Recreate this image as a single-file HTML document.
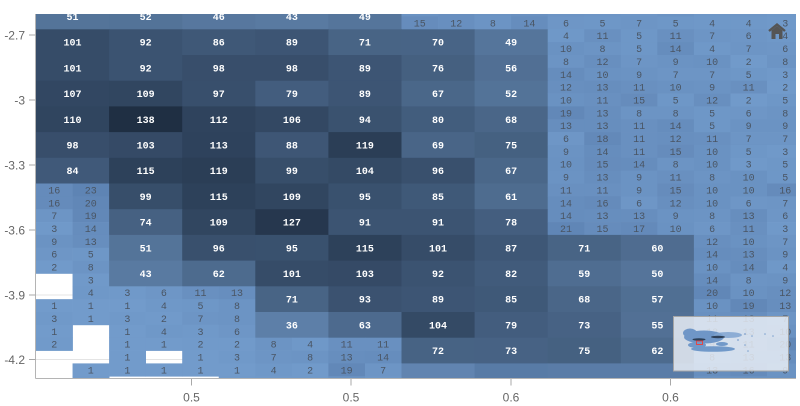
<!DOCTYPE html>
<html><head><meta charset="utf-8"><style>
html,body{margin:0;padding:0;background:#fff;}
body{width:800px;height:406px;overflow:hidden;}
svg{display:block;}
.L{font:bold 10px "Liberation Mono",monospace;fill:#fff;text-anchor:middle;}
.S{font:10px "Liberation Mono",monospace;fill:#4a5563;text-anchor:middle;}
.ax{font:12px "Liberation Sans",sans-serif;fill:#666;}
</style></head><body>
<svg width="800" height="406" viewBox="0 0 800 406" xmlns="http://www.w3.org/2000/svg">
<defs><clipPath id="pc"><rect x="36" y="14" width="760" height="364.5"/></clipPath></defs>
<g stroke="#e4e4e4" stroke-width="1">
<line x1="36" y1="35" x2="796" y2="35"/><line x1="36" y1="100" x2="796" y2="100"/><line x1="36" y1="165" x2="796" y2="165"/><line x1="36" y1="230" x2="796" y2="230"/><line x1="36" y1="295" x2="796" y2="295"/><line x1="36" y1="359.5" x2="796" y2="359.5"/>
</g>
<g clip-path="url(#pc)">
<!-- Row 0 -->
<g transform="translate(36,3.6)"><rect width="73.6" height="26.2" fill="#547499"/><text class="L" x="36.55" y="16.4">51</text></g>
<g transform="translate(109.1,3.6)"><rect width="73.6" height="26.2" fill="#537398"/><text class="L" x="36.55" y="16.4">52</text></g>
<g transform="translate(182.2,3.6)"><rect width="73.6" height="26.2" fill="#57779e"/><text class="L" x="36.55" y="16.4">46</text></g>
<g transform="translate(255.3,3.6)"><rect width="73.6" height="26.2" fill="#597aa1"/><text class="L" x="36.55" y="16.4">43</text></g>
<g transform="translate(328.4,3.6)"><rect width="73.6" height="26.2" fill="#55759b"/><text class="L" x="36.55" y="16.4">49</text></g>
<g transform="translate(401.5,3.6)"><rect x="0" y="0" width="36.9" height="13.2" fill="#6a92c2"/><rect x="36.55" y="0" width="36.9" height="13.2" fill="#688fbf"/><rect x="0" y="12.85" width="36.9" height="13.2" fill="#668cbc"/><rect x="36.55" y="12.85" width="36.9" height="13.2" fill="#688fbf"/><text class="S" x="18.3" y="22.8">15</text><text class="S" x="54.8" y="22.8">12</text></g>
<g transform="translate(474.6,3.6)"><rect x="0" y="0" width="36.9" height="13.2" fill="#6b93c3"/><rect x="36.55" y="0" width="36.9" height="13.2" fill="#6990c0"/><rect x="0" y="12.85" width="36.9" height="13.2" fill="#6c94c4"/><rect x="36.55" y="12.85" width="36.9" height="13.2" fill="#668dbd"/><text class="S" x="18.3" y="22.8">8</text><text class="S" x="54.8" y="22.8">14</text></g>
<g transform="translate(547.7,3.6)"><rect x="0" y="0" width="36.9" height="13.2" fill="#6c94c4"/><rect x="36.55" y="0" width="36.9" height="13.2" fill="#6d95c5"/><rect x="0" y="12.85" width="36.9" height="13.2" fill="#6e96c6"/><rect x="36.55" y="12.85" width="36.9" height="13.2" fill="#6e97c7"/><text class="S" x="18.3" y="22.8">6</text><text class="S" x="54.8" y="22.8">5</text></g>
<g transform="translate(620.8,3.6)"><rect x="0" y="0" width="36.9" height="13.2" fill="#6e96c6"/><rect x="36.55" y="0" width="36.9" height="13.2" fill="#6b93c3"/><rect x="0" y="12.85" width="36.9" height="13.2" fill="#6d95c5"/><rect x="36.55" y="12.85" width="36.9" height="13.2" fill="#6e97c7"/><text class="S" x="18.3" y="22.8">7</text><text class="S" x="54.8" y="22.8">5</text></g>
<g transform="translate(693.9,3.6)"><rect x="0" y="0" width="36.9" height="13.2" fill="#6e97c7"/><rect x="36.55" y="0" width="36.9" height="13.2" fill="#6e96c6"/><rect x="0" y="12.85" width="36.9" height="13.2" fill="#6f98c8"/><rect x="36.55" y="12.85" width="36.9" height="13.2" fill="#6f98c8"/><text class="S" x="18.3" y="22.8">4</text><text class="S" x="54.8" y="22.8">4</text></g>
<g transform="translate(767,3.6)"><rect x="0" y="0" width="36.9" height="13.2" fill="#6f98c8"/><rect x="0" y="12.85" width="36.9" height="13.2" fill="#7099c9"/><text class="S" x="18.3" y="22.8">3</text></g>
<!-- Row 1 -->
<g transform="translate(36,29.3)"><rect width="73.6" height="26.2" fill="#364c68"/><text class="L" x="36.55" y="16.4">101</text></g>
<g transform="translate(109.1,29.3)"><rect width="73.6" height="26.2" fill="#3b5371"/><text class="L" x="36.55" y="16.4">92</text></g>
<g transform="translate(182.2,29.3)"><rect width="73.6" height="26.2" fill="#3f5877"/><text class="L" x="36.55" y="16.4">86</text></g>
<g transform="translate(255.3,29.3)"><rect width="73.6" height="26.2" fill="#3d5574"/><text class="L" x="36.55" y="16.4">89</text></g>
<g transform="translate(328.4,29.3)"><rect width="73.6" height="26.2" fill="#486485"/><text class="L" x="36.55" y="16.4">71</text></g>
<g transform="translate(401.5,29.3)"><rect width="73.6" height="26.2" fill="#486486"/><text class="L" x="36.55" y="16.4">70</text></g>
<g transform="translate(474.6,29.3)"><rect width="73.6" height="26.2" fill="#55759b"/><text class="L" x="36.55" y="16.4">49</text></g>
<g transform="translate(547.7,29.3)"><rect x="0" y="0" width="36.9" height="13.2" fill="#6f98c8"/><rect x="36.55" y="0" width="36.9" height="13.2" fill="#6990c0"/><rect x="0" y="12.85" width="36.9" height="13.2" fill="#6a92c2"/><rect x="36.55" y="12.85" width="36.9" height="13.2" fill="#6c94c4"/><text class="S" x="18.3" y="9.9">4</text><text class="S" x="54.8" y="9.9">11</text><text class="S" x="18.3" y="22.8">10</text><text class="S" x="54.8" y="22.8">8</text></g>
<g transform="translate(620.8,29.3)"><rect x="0" y="0" width="36.9" height="13.2" fill="#6e97c7"/><rect x="36.55" y="0" width="36.9" height="13.2" fill="#6990c0"/><rect x="0" y="12.85" width="36.9" height="13.2" fill="#6e97c7"/><rect x="36.55" y="12.85" width="36.9" height="13.2" fill="#668dbd"/><text class="S" x="18.3" y="9.9">5</text><text class="S" x="54.8" y="9.9">11</text><text class="S" x="18.3" y="22.8">5</text><text class="S" x="54.8" y="22.8">14</text></g>
<g transform="translate(693.9,29.3)"><rect x="0" y="0" width="36.9" height="13.2" fill="#6d95c5"/><rect x="36.55" y="0" width="36.9" height="13.2" fill="#6e96c6"/><rect x="0" y="12.85" width="36.9" height="13.2" fill="#6f98c8"/><rect x="36.55" y="12.85" width="36.9" height="13.2" fill="#6d95c5"/><text class="S" x="18.3" y="9.9">7</text><text class="S" x="54.8" y="9.9">6</text><text class="S" x="18.3" y="22.8">4</text><text class="S" x="54.8" y="22.8">7</text></g>
<g transform="translate(767,29.3)"><rect x="0" y="0" width="36.9" height="13.2" fill="#6f98c8"/><rect x="0" y="12.85" width="36.9" height="13.2" fill="#6e96c6"/><text class="S" x="18.3" y="9.9">4</text><text class="S" x="18.3" y="22.8">6</text></g>
<!-- Row 2 -->
<g transform="translate(36,55)"><rect width="73.6" height="26.2" fill="#364c68"/><text class="L" x="36.55" y="16.4">101</text></g>
<g transform="translate(109.1,55)"><rect width="73.6" height="26.2" fill="#3b5371"/><text class="L" x="36.55" y="16.4">92</text></g>
<g transform="translate(182.2,55)"><rect width="73.6" height="26.2" fill="#384e6b"/><text class="L" x="36.55" y="16.4">98</text></g>
<g transform="translate(255.3,55)"><rect width="73.6" height="26.2" fill="#384e6b"/><text class="L" x="36.55" y="16.4">98</text></g>
<g transform="translate(328.4,55)"><rect width="73.6" height="26.2" fill="#3d5574"/><text class="L" x="36.55" y="16.4">89</text></g>
<g transform="translate(401.5,55)"><rect width="73.6" height="26.2" fill="#456080"/><text class="L" x="36.55" y="16.4">76</text></g>
<g transform="translate(474.6,55)"><rect width="73.6" height="26.2" fill="#516f94"/><text class="L" x="36.55" y="16.4">56</text></g>
<g transform="translate(547.7,55)"><rect x="0" y="0" width="36.9" height="13.2" fill="#6c94c4"/><rect x="36.55" y="0" width="36.9" height="13.2" fill="#688fbf"/><rect x="0" y="12.85" width="36.9" height="13.2" fill="#668dbd"/><rect x="36.55" y="12.85" width="36.9" height="13.2" fill="#6a92c2"/><text class="S" x="18.3" y="9.9">8</text><text class="S" x="54.8" y="9.9">12</text><text class="S" x="18.3" y="22.8">14</text><text class="S" x="54.8" y="22.8">10</text></g>
<g transform="translate(620.8,55)"><rect x="0" y="0" width="36.9" height="13.2" fill="#6d95c5"/><rect x="36.55" y="0" width="36.9" height="13.2" fill="#6b93c3"/><rect x="0" y="12.85" width="36.9" height="13.2" fill="#6b93c3"/><rect x="36.55" y="12.85" width="36.9" height="13.2" fill="#6d95c5"/><text class="S" x="18.3" y="9.9">7</text><text class="S" x="54.8" y="9.9">9</text><text class="S" x="18.3" y="22.8">9</text><text class="S" x="54.8" y="22.8">7</text></g>
<g transform="translate(693.9,55)"><rect x="0" y="0" width="36.9" height="13.2" fill="#6a92c2"/><rect x="36.55" y="0" width="36.9" height="13.2" fill="#719aca"/><rect x="0" y="12.85" width="36.9" height="13.2" fill="#6d95c5"/><rect x="36.55" y="12.85" width="36.9" height="13.2" fill="#6e97c7"/><text class="S" x="18.3" y="9.9">10</text><text class="S" x="54.8" y="9.9">2</text><text class="S" x="18.3" y="22.8">7</text><text class="S" x="54.8" y="22.8">5</text></g>
<g transform="translate(767,55)"><rect x="0" y="0" width="36.9" height="13.2" fill="#6c94c4"/><rect x="0" y="12.85" width="36.9" height="13.2" fill="#7099c9"/><text class="S" x="18.3" y="9.9">8</text><text class="S" x="18.3" y="22.8">3</text></g>
<!-- Row 3 -->
<g transform="translate(36,80.7)"><rect width="73.6" height="26.2" fill="#324762"/><text class="L" x="36.55" y="16.4">107</text></g>
<g transform="translate(109.1,80.7)"><rect width="73.6" height="26.2" fill="#314660"/><text class="L" x="36.55" y="16.4">109</text></g>
<g transform="translate(182.2,80.7)"><rect width="73.6" height="26.2" fill="#384f6c"/><text class="L" x="36.55" y="16.4">97</text></g>
<g transform="translate(255.3,80.7)"><rect width="73.6" height="26.2" fill="#435d7e"/><text class="L" x="36.55" y="16.4">79</text></g>
<g transform="translate(328.4,80.7)"><rect width="73.6" height="26.2" fill="#3d5574"/><text class="L" x="36.55" y="16.4">89</text></g>
<g transform="translate(401.5,80.7)"><rect width="73.6" height="26.2" fill="#4a6789"/><text class="L" x="36.55" y="16.4">67</text></g>
<g transform="translate(474.6,80.7)"><rect width="73.6" height="26.2" fill="#537398"/><text class="L" x="36.55" y="16.4">52</text></g>
<g transform="translate(547.7,80.7)"><rect x="0" y="0" width="36.9" height="13.2" fill="#688fbf"/><rect x="36.55" y="0" width="36.9" height="13.2" fill="#678ebe"/><rect x="0" y="12.85" width="36.9" height="13.2" fill="#6a92c2"/><rect x="36.55" y="12.85" width="36.9" height="13.2" fill="#6990c0"/><text class="S" x="18.3" y="9.9">12</text><text class="S" x="54.8" y="9.9">13</text><text class="S" x="18.3" y="22.8">10</text><text class="S" x="54.8" y="22.8">11</text></g>
<g transform="translate(620.8,80.7)"><rect x="0" y="0" width="36.9" height="13.2" fill="#6990c0"/><rect x="36.55" y="0" width="36.9" height="13.2" fill="#6a92c2"/><rect x="0" y="12.85" width="36.9" height="13.2" fill="#668cbc"/><rect x="36.55" y="12.85" width="36.9" height="13.2" fill="#6e97c7"/><text class="S" x="18.3" y="9.9">11</text><text class="S" x="54.8" y="9.9">10</text><text class="S" x="18.3" y="22.8">15</text><text class="S" x="54.8" y="22.8">5</text></g>
<g transform="translate(693.9,80.7)"><rect x="0" y="0" width="36.9" height="13.2" fill="#6b93c3"/><rect x="36.55" y="0" width="36.9" height="13.2" fill="#6990c0"/><rect x="0" y="12.85" width="36.9" height="13.2" fill="#688fbf"/><rect x="36.55" y="12.85" width="36.9" height="13.2" fill="#719aca"/><text class="S" x="18.3" y="9.9">9</text><text class="S" x="54.8" y="9.9">11</text><text class="S" x="18.3" y="22.8">12</text><text class="S" x="54.8" y="22.8">2</text></g>
<g transform="translate(767,80.7)"><rect x="0" y="0" width="36.9" height="13.2" fill="#719aca"/><rect x="0" y="12.85" width="36.9" height="13.2" fill="#6e97c7"/><text class="S" x="18.3" y="9.9">2</text><text class="S" x="18.3" y="22.8">5</text></g>
<!-- Row 4 -->
<g transform="translate(36,106.4)"><rect width="73.6" height="26.2" fill="#30455f"/><text class="L" x="36.55" y="16.4">110</text></g>
<g transform="translate(109.1,106.4)"><rect width="73.6" height="26.2" fill="#1f2f43"/><text class="L" x="36.55" y="16.4">138</text></g>
<g transform="translate(182.2,106.4)"><rect width="73.6" height="26.2" fill="#2f435d"/><text class="L" x="36.55" y="16.4">112</text></g>
<g transform="translate(255.3,106.4)"><rect width="73.6" height="26.2" fill="#334863"/><text class="L" x="36.55" y="16.4">106</text></g>
<g transform="translate(328.4,106.4)"><rect width="73.6" height="26.2" fill="#3a526f"/><text class="L" x="36.55" y="16.4">94</text></g>
<g transform="translate(401.5,106.4)"><rect width="73.6" height="26.2" fill="#425d7d"/><text class="L" x="36.55" y="16.4">80</text></g>
<g transform="translate(474.6,106.4)"><rect width="73.6" height="26.2" fill="#4a6688"/><text class="L" x="36.55" y="16.4">68</text></g>
<g transform="translate(547.7,106.4)"><rect x="0" y="0" width="36.9" height="13.2" fill="#6288b8"/><rect x="36.55" y="0" width="36.9" height="13.2" fill="#678ebe"/><rect x="0" y="12.85" width="36.9" height="13.2" fill="#678ebe"/><rect x="36.55" y="12.85" width="36.9" height="13.2" fill="#678ebe"/><text class="S" x="18.3" y="9.9">19</text><text class="S" x="54.8" y="9.9">13</text><text class="S" x="18.3" y="22.8">13</text><text class="S" x="54.8" y="22.8">13</text></g>
<g transform="translate(620.8,106.4)"><rect x="0" y="0" width="36.9" height="13.2" fill="#6c94c4"/><rect x="36.55" y="0" width="36.9" height="13.2" fill="#6c94c4"/><rect x="0" y="12.85" width="36.9" height="13.2" fill="#6990c0"/><rect x="36.55" y="12.85" width="36.9" height="13.2" fill="#668dbd"/><text class="S" x="18.3" y="9.9">8</text><text class="S" x="54.8" y="9.9">8</text><text class="S" x="18.3" y="22.8">11</text><text class="S" x="54.8" y="22.8">14</text></g>
<g transform="translate(693.9,106.4)"><rect x="0" y="0" width="36.9" height="13.2" fill="#6e97c7"/><rect x="36.55" y="0" width="36.9" height="13.2" fill="#6e96c6"/><rect x="0" y="12.85" width="36.9" height="13.2" fill="#6e97c7"/><rect x="36.55" y="12.85" width="36.9" height="13.2" fill="#6b93c3"/><text class="S" x="18.3" y="9.9">5</text><text class="S" x="54.8" y="9.9">6</text><text class="S" x="18.3" y="22.8">5</text><text class="S" x="54.8" y="22.8">9</text></g>
<g transform="translate(767,106.4)"><rect x="0" y="0" width="36.9" height="13.2" fill="#6c94c4"/><rect x="0" y="12.85" width="36.9" height="13.2" fill="#6b93c3"/><text class="S" x="18.3" y="9.9">8</text><text class="S" x="18.3" y="22.8">9</text></g>
<!-- Row 5 -->
<g transform="translate(36,132.1)"><rect width="73.6" height="26.2" fill="#384e6b"/><text class="L" x="36.55" y="16.4">98</text></g>
<g transform="translate(109.1,132.1)"><rect width="73.6" height="26.2" fill="#354a66"/><text class="L" x="36.55" y="16.4">103</text></g>
<g transform="translate(182.2,132.1)"><rect width="73.6" height="26.2" fill="#2e425c"/><text class="L" x="36.55" y="16.4">113</text></g>
<g transform="translate(255.3,132.1)"><rect width="73.6" height="26.2" fill="#3e5675"/><text class="L" x="36.55" y="16.4">88</text></g>
<g transform="translate(328.4,132.1)"><rect width="73.6" height="26.2" fill="#2b3e56"/><text class="L" x="36.55" y="16.4">119</text></g>
<g transform="translate(401.5,132.1)"><rect width="73.6" height="26.2" fill="#496587"/><text class="L" x="36.55" y="16.4">69</text></g>
<g transform="translate(474.6,132.1)"><rect width="73.6" height="26.2" fill="#456181"/><text class="L" x="36.55" y="16.4">75</text></g>
<g transform="translate(547.7,132.1)"><rect x="0" y="0" width="36.9" height="13.2" fill="#6e96c6"/><rect x="36.55" y="0" width="36.9" height="13.2" fill="#6389b9"/><rect x="0" y="12.85" width="36.9" height="13.2" fill="#6b93c3"/><rect x="36.55" y="12.85" width="36.9" height="13.2" fill="#668dbd"/><text class="S" x="18.3" y="9.9">6</text><text class="S" x="54.8" y="9.9">18</text><text class="S" x="18.3" y="22.8">9</text><text class="S" x="54.8" y="22.8">14</text></g>
<g transform="translate(620.8,132.1)"><rect x="0" y="0" width="36.9" height="13.2" fill="#6990c0"/><rect x="36.55" y="0" width="36.9" height="13.2" fill="#688fbf"/><rect x="0" y="12.85" width="36.9" height="13.2" fill="#6990c0"/><rect x="36.55" y="12.85" width="36.9" height="13.2" fill="#668cbc"/><text class="S" x="18.3" y="9.9">11</text><text class="S" x="54.8" y="9.9">12</text><text class="S" x="18.3" y="22.8">11</text><text class="S" x="54.8" y="22.8">15</text></g>
<g transform="translate(693.9,132.1)"><rect x="0" y="0" width="36.9" height="13.2" fill="#6990c0"/><rect x="36.55" y="0" width="36.9" height="13.2" fill="#6d95c5"/><rect x="0" y="12.85" width="36.9" height="13.2" fill="#6a92c2"/><rect x="36.55" y="12.85" width="36.9" height="13.2" fill="#6e97c7"/><text class="S" x="18.3" y="9.9">11</text><text class="S" x="54.8" y="9.9">7</text><text class="S" x="18.3" y="22.8">10</text><text class="S" x="54.8" y="22.8">5</text></g>
<g transform="translate(767,132.1)"><rect x="0" y="0" width="36.9" height="13.2" fill="#6d95c5"/><rect x="0" y="12.85" width="36.9" height="13.2" fill="#7099c9"/><text class="S" x="18.3" y="9.9">7</text><text class="S" x="18.3" y="22.8">3</text></g>
<!-- Row 6 -->
<g transform="translate(36,157.8)"><rect width="73.6" height="26.2" fill="#405979"/><text class="L" x="36.55" y="16.4">84</text></g>
<g transform="translate(109.1,157.8)"><rect width="73.6" height="26.2" fill="#2d415a"/><text class="L" x="36.55" y="16.4">115</text></g>
<g transform="translate(182.2,157.8)"><rect width="73.6" height="26.2" fill="#2b3e56"/><text class="L" x="36.55" y="16.4">119</text></g>
<g transform="translate(255.3,157.8)"><rect width="73.6" height="26.2" fill="#374e6a"/><text class="L" x="36.55" y="16.4">99</text></g>
<g transform="translate(328.4,157.8)"><rect width="73.6" height="26.2" fill="#344a65"/><text class="L" x="36.55" y="16.4">104</text></g>
<g transform="translate(401.5,157.8)"><rect width="73.6" height="26.2" fill="#39506d"/><text class="L" x="36.55" y="16.4">96</text></g>
<g transform="translate(474.6,157.8)"><rect width="73.6" height="26.2" fill="#4a6789"/><text class="L" x="36.55" y="16.4">67</text></g>
<g transform="translate(547.7,157.8)"><rect x="0" y="0" width="36.9" height="13.2" fill="#6a92c2"/><rect x="36.55" y="0" width="36.9" height="13.2" fill="#668cbc"/><rect x="0" y="12.85" width="36.9" height="13.2" fill="#6b93c3"/><rect x="36.55" y="12.85" width="36.9" height="13.2" fill="#678ebe"/><text class="S" x="18.3" y="9.9">10</text><text class="S" x="54.8" y="9.9">15</text><text class="S" x="18.3" y="22.8">9</text><text class="S" x="54.8" y="22.8">13</text></g>
<g transform="translate(620.8,157.8)"><rect x="0" y="0" width="36.9" height="13.2" fill="#668dbd"/><rect x="36.55" y="0" width="36.9" height="13.2" fill="#6c94c4"/><rect x="0" y="12.85" width="36.9" height="13.2" fill="#6b93c3"/><rect x="36.55" y="12.85" width="36.9" height="13.2" fill="#6990c0"/><text class="S" x="18.3" y="9.9">14</text><text class="S" x="54.8" y="9.9">8</text><text class="S" x="18.3" y="22.8">9</text><text class="S" x="54.8" y="22.8">11</text></g>
<g transform="translate(693.9,157.8)"><rect x="0" y="0" width="36.9" height="13.2" fill="#6a92c2"/><rect x="36.55" y="0" width="36.9" height="13.2" fill="#7099c9"/><rect x="0" y="12.85" width="36.9" height="13.2" fill="#6c94c4"/><rect x="36.55" y="12.85" width="36.9" height="13.2" fill="#6a92c2"/><text class="S" x="18.3" y="9.9">10</text><text class="S" x="54.8" y="9.9">3</text><text class="S" x="18.3" y="22.8">8</text><text class="S" x="54.8" y="22.8">10</text></g>
<g transform="translate(767,157.8)"><rect x="0" y="0" width="36.9" height="13.2" fill="#6e97c7"/><rect x="0" y="12.85" width="36.9" height="13.2" fill="#6e97c7"/><text class="S" x="18.3" y="9.9">5</text><text class="S" x="18.3" y="22.8">5</text></g>
<!-- Row 7 -->
<g transform="translate(36,183.5)"><rect x="0" y="0" width="36.9" height="13.2" fill="#658bbb"/><rect x="36.55" y="0" width="36.9" height="13.2" fill="#5e84b4"/><rect x="0" y="12.85" width="36.9" height="13.2" fill="#658bbb"/><rect x="36.55" y="12.85" width="36.9" height="13.2" fill="#6187b7"/><text class="S" x="18.3" y="9.9">16</text><text class="S" x="54.8" y="9.9">23</text><text class="S" x="18.3" y="22.8">16</text><text class="S" x="54.8" y="22.8">20</text></g>
<g transform="translate(109.1,183.5)"><rect width="73.6" height="26.2" fill="#374e6a"/><text class="L" x="36.55" y="16.4">99</text></g>
<g transform="translate(182.2,183.5)"><rect width="73.6" height="26.2" fill="#2d415a"/><text class="L" x="36.55" y="16.4">115</text></g>
<g transform="translate(255.3,183.5)"><rect width="73.6" height="26.2" fill="#314660"/><text class="L" x="36.55" y="16.4">109</text></g>
<g transform="translate(328.4,183.5)"><rect width="73.6" height="26.2" fill="#39516e"/><text class="L" x="36.55" y="16.4">95</text></g>
<g transform="translate(401.5,183.5)"><rect width="73.6" height="26.2" fill="#3f5978"/><text class="L" x="36.55" y="16.4">85</text></g>
<g transform="translate(474.6,183.5)"><rect width="73.6" height="26.2" fill="#4e6c8f"/><text class="L" x="36.55" y="16.4">61</text></g>
<g transform="translate(547.7,183.5)"><rect x="0" y="0" width="36.9" height="13.2" fill="#6990c0"/><rect x="36.55" y="0" width="36.9" height="13.2" fill="#6990c0"/><rect x="0" y="12.85" width="36.9" height="13.2" fill="#668dbd"/><rect x="36.55" y="12.85" width="36.9" height="13.2" fill="#658bbb"/><text class="S" x="18.3" y="9.9">11</text><text class="S" x="54.8" y="9.9">11</text><text class="S" x="18.3" y="22.8">14</text><text class="S" x="54.8" y="22.8">16</text></g>
<g transform="translate(620.8,183.5)"><rect x="0" y="0" width="36.9" height="13.2" fill="#6b93c3"/><rect x="36.55" y="0" width="36.9" height="13.2" fill="#668cbc"/><rect x="0" y="12.85" width="36.9" height="13.2" fill="#6e96c6"/><rect x="36.55" y="12.85" width="36.9" height="13.2" fill="#688fbf"/><text class="S" x="18.3" y="9.9">9</text><text class="S" x="54.8" y="9.9">15</text><text class="S" x="18.3" y="22.8">6</text><text class="S" x="54.8" y="22.8">12</text></g>
<g transform="translate(693.9,183.5)"><rect x="0" y="0" width="36.9" height="13.2" fill="#6a92c2"/><rect x="36.55" y="0" width="36.9" height="13.2" fill="#6a92c2"/><rect x="0" y="12.85" width="36.9" height="13.2" fill="#6a92c2"/><rect x="36.55" y="12.85" width="36.9" height="13.2" fill="#6e96c6"/><text class="S" x="18.3" y="9.9">10</text><text class="S" x="54.8" y="9.9">10</text><text class="S" x="18.3" y="22.8">10</text><text class="S" x="54.8" y="22.8">6</text></g>
<g transform="translate(767,183.5)"><rect x="0" y="0" width="36.9" height="13.2" fill="#658bbb"/><rect x="0" y="12.85" width="36.9" height="13.2" fill="#6d95c5"/><text class="S" x="18.3" y="9.9">16</text><text class="S" x="18.3" y="22.8">7</text></g>
<!-- Row 8 -->
<g transform="translate(36,209.2)"><rect x="0" y="0" width="36.9" height="13.2" fill="#6d95c5"/><rect x="36.55" y="0" width="36.9" height="13.2" fill="#6288b8"/><rect x="0" y="12.85" width="36.9" height="13.2" fill="#7099c9"/><rect x="36.55" y="12.85" width="36.9" height="13.2" fill="#668dbd"/><text class="S" x="18.3" y="9.9">7</text><text class="S" x="54.8" y="9.9">19</text><text class="S" x="18.3" y="22.8">3</text><text class="S" x="54.8" y="22.8">14</text></g>
<g transform="translate(109.1,209.2)"><rect width="73.6" height="26.2" fill="#466182"/><text class="L" x="36.55" y="16.4">74</text></g>
<g transform="translate(182.2,209.2)"><rect width="73.6" height="26.2" fill="#314660"/><text class="L" x="36.55" y="16.4">109</text></g>
<g transform="translate(255.3,209.2)"><rect width="73.6" height="26.2" fill="#26374e"/><text class="L" x="36.55" y="16.4">127</text></g>
<g transform="translate(328.4,209.2)"><rect width="73.6" height="26.2" fill="#3c5472"/><text class="L" x="36.55" y="16.4">91</text></g>
<g transform="translate(401.5,209.2)"><rect width="73.6" height="26.2" fill="#3c5472"/><text class="L" x="36.55" y="16.4">91</text></g>
<g transform="translate(474.6,209.2)"><rect width="73.6" height="26.2" fill="#445e7f"/><text class="L" x="36.55" y="16.4">78</text></g>
<g transform="translate(547.7,209.2)"><rect x="0" y="0" width="36.9" height="13.2" fill="#668dbd"/><rect x="36.55" y="0" width="36.9" height="13.2" fill="#678ebe"/><rect x="0" y="12.85" width="36.9" height="13.2" fill="#6086b6"/><rect x="36.55" y="12.85" width="36.9" height="13.2" fill="#668cbc"/><text class="S" x="18.3" y="9.9">14</text><text class="S" x="54.8" y="9.9">13</text><text class="S" x="18.3" y="22.8">21</text><text class="S" x="54.8" y="22.8">15</text></g>
<g transform="translate(620.8,209.2)"><rect x="0" y="0" width="36.9" height="13.2" fill="#678ebe"/><rect x="36.55" y="0" width="36.9" height="13.2" fill="#6b93c3"/><rect x="0" y="12.85" width="36.9" height="13.2" fill="#648aba"/><rect x="36.55" y="12.85" width="36.9" height="13.2" fill="#6a92c2"/><text class="S" x="18.3" y="9.9">13</text><text class="S" x="54.8" y="9.9">9</text><text class="S" x="18.3" y="22.8">17</text><text class="S" x="54.8" y="22.8">10</text></g>
<g transform="translate(693.9,209.2)"><rect x="0" y="0" width="36.9" height="13.2" fill="#6c94c4"/><rect x="36.55" y="0" width="36.9" height="13.2" fill="#678ebe"/><rect x="0" y="12.85" width="36.9" height="13.2" fill="#6e96c6"/><rect x="36.55" y="12.85" width="36.9" height="13.2" fill="#6990c0"/><text class="S" x="18.3" y="9.9">8</text><text class="S" x="54.8" y="9.9">13</text><text class="S" x="18.3" y="22.8">6</text><text class="S" x="54.8" y="22.8">11</text></g>
<g transform="translate(767,209.2)"><rect x="0" y="0" width="36.9" height="13.2" fill="#6e96c6"/><rect x="0" y="12.85" width="36.9" height="13.2" fill="#7099c9"/><text class="S" x="18.3" y="9.9">6</text><text class="S" x="18.3" y="22.8">3</text></g>
<!-- Row 9 -->
<g transform="translate(36,234.9)"><rect x="0" y="0" width="36.9" height="13.2" fill="#6b93c3"/><rect x="36.55" y="0" width="36.9" height="13.2" fill="#678ebe"/><rect x="0" y="12.85" width="36.9" height="13.2" fill="#6e96c6"/><rect x="36.55" y="12.85" width="36.9" height="13.2" fill="#6e97c7"/><text class="S" x="18.3" y="9.9">9</text><text class="S" x="54.8" y="9.9">13</text><text class="S" x="18.3" y="22.8">6</text><text class="S" x="54.8" y="22.8">5</text></g>
<g transform="translate(109.1,234.9)"><rect width="73.6" height="26.2" fill="#547499"/><text class="L" x="36.55" y="16.4">51</text></g>
<g transform="translate(182.2,234.9)"><rect width="73.6" height="26.2" fill="#39506d"/><text class="L" x="36.55" y="16.4">96</text></g>
<g transform="translate(255.3,234.9)"><rect width="73.6" height="26.2" fill="#39516e"/><text class="L" x="36.55" y="16.4">95</text></g>
<g transform="translate(328.4,234.9)"><rect width="73.6" height="26.2" fill="#2d415a"/><text class="L" x="36.55" y="16.4">115</text></g>
<g transform="translate(401.5,234.9)"><rect width="73.6" height="26.2" fill="#364c68"/><text class="L" x="36.55" y="16.4">101</text></g>
<g transform="translate(474.6,234.9)"><rect width="73.6" height="26.2" fill="#3e5776"/><text class="L" x="36.55" y="16.4">87</text></g>
<g transform="translate(547.7,234.9)"><rect width="73.6" height="26.2" fill="#486485"/><text class="L" x="36.55" y="16.4">71</text></g>
<g transform="translate(620.8,234.9)"><rect width="73.6" height="26.2" fill="#4f6c90"/><text class="L" x="36.55" y="16.4">60</text></g>
<g transform="translate(693.9,234.9)"><rect x="0" y="0" width="36.9" height="13.2" fill="#688fbf"/><rect x="36.55" y="0" width="36.9" height="13.2" fill="#6a92c2"/><rect x="0" y="12.85" width="36.9" height="13.2" fill="#668dbd"/><rect x="36.55" y="12.85" width="36.9" height="13.2" fill="#678ebe"/><text class="S" x="18.3" y="9.9">12</text><text class="S" x="54.8" y="9.9">10</text><text class="S" x="18.3" y="22.8">14</text><text class="S" x="54.8" y="22.8">13</text></g>
<g transform="translate(767,234.9)"><rect x="0" y="0" width="36.9" height="13.2" fill="#6d95c5"/><rect x="0" y="12.85" width="36.9" height="13.2" fill="#6b93c3"/><text class="S" x="18.3" y="9.9">7</text><text class="S" x="18.3" y="22.8">9</text></g>
<!-- Row 10 -->
<g transform="translate(36,260.6)"><rect x="0" y="0" width="36.9" height="13.2" fill="#719aca"/><rect x="36.55" y="0" width="36.9" height="13.2" fill="#6c94c4"/><rect x="36.55" y="12.85" width="36.9" height="13.2" fill="#7099c9"/><text class="S" x="18.3" y="9.9">2</text><text class="S" x="54.8" y="9.9">8</text><text class="S" x="54.8" y="22.8">3</text></g>
<g transform="translate(109.1,260.6)"><rect width="73.6" height="26.2" fill="#597aa1"/><text class="L" x="36.55" y="16.4">43</text></g>
<g transform="translate(182.2,260.6)"><rect width="73.6" height="26.2" fill="#4d6b8e"/><text class="L" x="36.55" y="16.4">62</text></g>
<g transform="translate(255.3,260.6)"><rect width="73.6" height="26.2" fill="#364c68"/><text class="L" x="36.55" y="16.4">101</text></g>
<g transform="translate(328.4,260.6)"><rect width="73.6" height="26.2" fill="#354a66"/><text class="L" x="36.55" y="16.4">103</text></g>
<g transform="translate(401.5,260.6)"><rect width="73.6" height="26.2" fill="#3b5371"/><text class="L" x="36.55" y="16.4">92</text></g>
<g transform="translate(474.6,260.6)"><rect width="73.6" height="26.2" fill="#415b7b"/><text class="L" x="36.55" y="16.4">82</text></g>
<g transform="translate(547.7,260.6)"><rect width="73.6" height="26.2" fill="#4f6d91"/><text class="L" x="36.55" y="16.4">59</text></g>
<g transform="translate(620.8,260.6)"><rect width="73.6" height="26.2" fill="#55749a"/><text class="L" x="36.55" y="16.4">50</text></g>
<g transform="translate(693.9,260.6)"><rect x="0" y="0" width="36.9" height="13.2" fill="#6a92c2"/><rect x="36.55" y="0" width="36.9" height="13.2" fill="#668dbd"/><rect x="0" y="12.85" width="36.9" height="13.2" fill="#668dbd"/><rect x="36.55" y="12.85" width="36.9" height="13.2" fill="#6c94c4"/><text class="S" x="18.3" y="9.9">10</text><text class="S" x="54.8" y="9.9">14</text><text class="S" x="18.3" y="22.8">14</text><text class="S" x="54.8" y="22.8">8</text></g>
<g transform="translate(767,260.6)"><rect x="0" y="0" width="36.9" height="13.2" fill="#6f98c8"/><rect x="0" y="12.85" width="36.9" height="13.2" fill="#6b93c3"/><text class="S" x="18.3" y="9.9">4</text><text class="S" x="18.3" y="22.8">9</text></g>
<!-- Row 11 -->
<g transform="translate(36,286.3)"><rect x="36.55" y="0" width="36.9" height="13.2" fill="#6f98c8"/><rect x="0" y="12.85" width="36.9" height="13.2" fill="#729bcb"/><rect x="36.55" y="12.85" width="36.9" height="13.2" fill="#729bcb"/><text class="S" x="54.8" y="9.9">4</text><text class="S" x="18.3" y="22.8">1</text><text class="S" x="54.8" y="22.8">1</text></g>
<g transform="translate(109.1,286.3)"><rect x="0" y="0" width="36.9" height="13.2" fill="#7099c9"/><rect x="36.55" y="0" width="36.9" height="13.2" fill="#6e96c6"/><rect x="0" y="12.85" width="36.9" height="13.2" fill="#729bcb"/><rect x="36.55" y="12.85" width="36.9" height="13.2" fill="#6f98c8"/><text class="S" x="18.3" y="9.9">3</text><text class="S" x="54.8" y="9.9">6</text><text class="S" x="18.3" y="22.8">1</text><text class="S" x="54.8" y="22.8">4</text></g>
<g transform="translate(182.2,286.3)"><rect x="0" y="0" width="36.9" height="13.2" fill="#6990c0"/><rect x="36.55" y="0" width="36.9" height="13.2" fill="#678ebe"/><rect x="0" y="12.85" width="36.9" height="13.2" fill="#6e97c7"/><rect x="36.55" y="12.85" width="36.9" height="13.2" fill="#6c94c4"/><text class="S" x="18.3" y="9.9">11</text><text class="S" x="54.8" y="9.9">13</text><text class="S" x="18.3" y="22.8">5</text><text class="S" x="54.8" y="22.8">8</text></g>
<g transform="translate(255.3,286.3)"><rect width="73.6" height="26.2" fill="#486485"/><text class="L" x="36.55" y="16.4">71</text></g>
<g transform="translate(328.4,286.3)"><rect width="73.6" height="26.2" fill="#3b5270"/><text class="L" x="36.55" y="16.4">93</text></g>
<g transform="translate(401.5,286.3)"><rect width="73.6" height="26.2" fill="#3d5574"/><text class="L" x="36.55" y="16.4">89</text></g>
<g transform="translate(474.6,286.3)"><rect width="73.6" height="26.2" fill="#3f5978"/><text class="L" x="36.55" y="16.4">85</text></g>
<g transform="translate(547.7,286.3)"><rect width="73.6" height="26.2" fill="#4a6688"/><text class="L" x="36.55" y="16.4">68</text></g>
<g transform="translate(620.8,286.3)"><rect width="73.6" height="26.2" fill="#506f93"/><text class="L" x="36.55" y="16.4">57</text></g>
<g transform="translate(693.9,286.3)"><rect x="0" y="0" width="36.9" height="13.2" fill="#6187b7"/><rect x="36.55" y="0" width="36.9" height="13.2" fill="#6a92c2"/><rect x="0" y="12.85" width="36.9" height="13.2" fill="#6a92c2"/><rect x="36.55" y="12.85" width="36.9" height="13.2" fill="#6288b8"/><text class="S" x="18.3" y="9.9">20</text><text class="S" x="54.8" y="9.9">10</text><text class="S" x="18.3" y="22.8">10</text><text class="S" x="54.8" y="22.8">19</text></g>
<g transform="translate(767,286.3)"><rect x="0" y="0" width="36.9" height="13.2" fill="#688fbf"/><rect x="0" y="12.85" width="36.9" height="13.2" fill="#678ebe"/><text class="S" x="18.3" y="9.9">12</text><text class="S" x="18.3" y="22.8">13</text></g>
<!-- Row 12 -->
<g transform="translate(36,312)"><rect x="0" y="0" width="36.9" height="13.2" fill="#7099c9"/><rect x="36.55" y="0" width="36.9" height="13.2" fill="#729bcb"/><rect x="0" y="12.85" width="36.9" height="13.2" fill="#729bcb"/><text class="S" x="18.3" y="9.9">3</text><text class="S" x="54.8" y="9.9">1</text><text class="S" x="18.3" y="22.8">1</text></g>
<g transform="translate(109.1,312)"><rect x="0" y="0" width="36.9" height="13.2" fill="#7099c9"/><rect x="36.55" y="0" width="36.9" height="13.2" fill="#719aca"/><rect x="0" y="12.85" width="36.9" height="13.2" fill="#729bcb"/><rect x="36.55" y="12.85" width="36.9" height="13.2" fill="#6f98c8"/><text class="S" x="18.3" y="9.9">3</text><text class="S" x="54.8" y="9.9">2</text><text class="S" x="18.3" y="22.8">1</text><text class="S" x="54.8" y="22.8">4</text></g>
<g transform="translate(182.2,312)"><rect x="0" y="0" width="36.9" height="13.2" fill="#6d95c5"/><rect x="36.55" y="0" width="36.9" height="13.2" fill="#6c94c4"/><rect x="0" y="12.85" width="36.9" height="13.2" fill="#7099c9"/><rect x="36.55" y="12.85" width="36.9" height="13.2" fill="#6e96c6"/><text class="S" x="18.3" y="9.9">7</text><text class="S" x="54.8" y="9.9">8</text><text class="S" x="18.3" y="22.8">3</text><text class="S" x="54.8" y="22.8">6</text></g>
<g transform="translate(255.3,312)"><rect width="73.6" height="26.2" fill="#5d7fa8"/><text class="L" x="36.55" y="16.4">36</text></g>
<g transform="translate(328.4,312)"><rect width="73.6" height="26.2" fill="#4d6a8e"/><text class="L" x="36.55" y="16.4">63</text></g>
<g transform="translate(401.5,312)"><rect width="73.6" height="26.2" fill="#344a65"/><text class="L" x="36.55" y="16.4">104</text></g>
<g transform="translate(474.6,312)"><rect width="73.6" height="26.2" fill="#435d7e"/><text class="L" x="36.55" y="16.4">79</text></g>
<g transform="translate(547.7,312)"><rect width="73.6" height="26.2" fill="#476284"/><text class="L" x="36.55" y="16.4">73</text></g>
<g transform="translate(620.8,312)"><rect width="73.6" height="26.2" fill="#527095"/><text class="L" x="36.55" y="16.4">55</text></g>
<g transform="translate(693.9,312)"><rect x="0" y="0" width="36.9" height="13.2" fill="#6990c0"/><rect x="36.55" y="0" width="36.9" height="13.2" fill="#678ebe"/><rect x="0" y="12.85" width="36.9" height="13.2" fill="#688fbf"/><rect x="36.55" y="12.85" width="36.9" height="13.2" fill="#678ebe"/><text class="S" x="18.3" y="9.9">11</text><text class="S" x="54.8" y="9.9">13</text><text class="S" x="18.3" y="22.8">12</text><text class="S" x="54.8" y="22.8">13</text></g>
<g transform="translate(767,312)"><rect x="0" y="0" width="36.9" height="13.2" fill="#6d95c5"/><rect x="0" y="12.85" width="36.9" height="13.2" fill="#6a92c2"/><text class="S" x="18.3" y="9.9">7</text><text class="S" x="18.3" y="22.8">10</text></g>
<!-- Row 13 -->
<g transform="translate(36,337.7)"><rect x="0" y="0" width="36.9" height="13.2" fill="#719aca"/><text class="S" x="18.3" y="9.9">2</text></g>
<g transform="translate(109.1,337.7)"><rect x="0" y="0" width="36.9" height="13.2" fill="#729bcb"/><rect x="36.55" y="0" width="36.9" height="13.2" fill="#729bcb"/><rect x="0" y="12.85" width="36.9" height="13.2" fill="#729bcb"/><text class="S" x="18.3" y="9.9">1</text><text class="S" x="54.8" y="9.9">1</text><text class="S" x="18.3" y="22.8">1</text></g>
<g transform="translate(182.2,337.7)"><rect x="0" y="0" width="36.9" height="13.2" fill="#719aca"/><rect x="36.55" y="0" width="36.9" height="13.2" fill="#719aca"/><rect x="0" y="12.85" width="36.9" height="13.2" fill="#729bcb"/><rect x="36.55" y="12.85" width="36.9" height="13.2" fill="#7099c9"/><text class="S" x="18.3" y="9.9">2</text><text class="S" x="54.8" y="9.9">2</text><text class="S" x="18.3" y="22.8">1</text><text class="S" x="54.8" y="22.8">3</text></g>
<g transform="translate(255.3,337.7)"><rect x="0" y="0" width="36.9" height="13.2" fill="#6c94c4"/><rect x="36.55" y="0" width="36.9" height="13.2" fill="#6f98c8"/><rect x="0" y="12.85" width="36.9" height="13.2" fill="#6d95c5"/><rect x="36.55" y="12.85" width="36.9" height="13.2" fill="#6c94c4"/><text class="S" x="18.3" y="9.9">8</text><text class="S" x="54.8" y="9.9">4</text><text class="S" x="18.3" y="22.8">7</text><text class="S" x="54.8" y="22.8">8</text></g>
<g transform="translate(328.4,337.7)"><rect x="0" y="0" width="36.9" height="13.2" fill="#6990c0"/><rect x="36.55" y="0" width="36.9" height="13.2" fill="#6990c0"/><rect x="0" y="12.85" width="36.9" height="13.2" fill="#678ebe"/><rect x="36.55" y="12.85" width="36.9" height="13.2" fill="#668dbd"/><text class="S" x="18.3" y="9.9">11</text><text class="S" x="54.8" y="9.9">11</text><text class="S" x="18.3" y="22.8">13</text><text class="S" x="54.8" y="22.8">14</text></g>
<g transform="translate(401.5,337.7)"><rect width="73.6" height="26.2" fill="#476384"/><text class="L" x="36.55" y="16.4">72</text></g>
<g transform="translate(474.6,337.7)"><rect width="73.6" height="26.2" fill="#476284"/><text class="L" x="36.55" y="16.4">73</text></g>
<g transform="translate(547.7,337.7)"><rect width="73.6" height="26.2" fill="#456181"/><text class="L" x="36.55" y="16.4">75</text></g>
<g transform="translate(620.8,337.7)"><rect width="73.6" height="26.2" fill="#4d6b8e"/><text class="L" x="36.55" y="16.4">62</text></g>
<g transform="translate(693.9,337.7)"><rect x="0" y="0" width="36.9" height="13.2" fill="#6b93c3"/><rect x="36.55" y="0" width="36.9" height="13.2" fill="#6990c0"/><rect x="0" y="12.85" width="36.9" height="13.2" fill="#6c94c4"/><rect x="36.55" y="12.85" width="36.9" height="13.2" fill="#678ebe"/><text class="S" x="18.3" y="9.9">9</text><text class="S" x="54.8" y="9.9">11</text><text class="S" x="18.3" y="22.8">8</text><text class="S" x="54.8" y="22.8">13</text></g>
<g transform="translate(767,337.7)"><rect x="0" y="0" width="36.9" height="13.2" fill="#6187b7"/><rect x="0" y="12.85" width="36.9" height="13.2" fill="#678ebe"/><text class="S" x="18.3" y="9.9">20</text><text class="S" x="18.3" y="22.8">13</text></g>
<!-- Row 14 -->
<g transform="translate(36,363.4)"><rect x="36.55" y="0" width="36.9" height="13.2" fill="#729bcb"/><rect x="36.55" y="12.85" width="36.9" height="13.2" fill="#719aca"/><text class="S" x="54.8" y="9.9">1</text></g>
<g transform="translate(109.1,363.4)"><rect x="0" y="0" width="36.9" height="13.2" fill="#729bcb"/><rect x="36.55" y="0" width="36.9" height="13.2" fill="#729bcb"/><text class="S" x="18.3" y="9.9">1</text><text class="S" x="54.8" y="9.9">1</text></g>
<g transform="translate(182.2,363.4)"><rect x="0" y="0" width="36.9" height="13.2" fill="#729bcb"/><rect x="36.55" y="0" width="36.9" height="13.2" fill="#729bcb"/><rect x="36.55" y="12.85" width="36.9" height="13.2" fill="#719aca"/><text class="S" x="18.3" y="9.9">1</text><text class="S" x="54.8" y="9.9">1</text></g>
<g transform="translate(255.3,363.4)"><rect x="0" y="0" width="36.9" height="13.2" fill="#6f98c8"/><rect x="36.55" y="0" width="36.9" height="13.2" fill="#719aca"/><rect x="0" y="12.85" width="36.9" height="13.2" fill="#7099c9"/><rect x="36.55" y="12.85" width="36.9" height="13.2" fill="#7099c9"/><text class="S" x="18.3" y="9.9">4</text><text class="S" x="54.8" y="9.9">2</text></g>
<g transform="translate(328.4,363.4)"><rect x="0" y="0" width="36.9" height="13.2" fill="#6288b8"/><rect x="36.55" y="0" width="36.9" height="13.2" fill="#6d95c5"/><rect x="0" y="12.85" width="36.9" height="13.2" fill="#6a92c2"/><rect x="36.55" y="12.85" width="36.9" height="13.2" fill="#6e97c7"/><text class="S" x="18.3" y="9.9">19</text><text class="S" x="54.8" y="9.9">7</text></g>
<g transform="translate(401.5,363.4)"><rect width="73.6" height="26.2" fill="#6184b0"/></g>
<g transform="translate(474.6,363.4)"><rect width="73.6" height="26.2" fill="#587ba6"/></g>
<g transform="translate(547.7,363.4)"><rect width="73.6" height="26.2" fill="#5a7ca7"/></g>
<g transform="translate(620.8,363.4)"><rect width="73.6" height="26.2" fill="#5a7ca7"/></g>
<g transform="translate(693.9,363.4)"><rect x="0" y="0" width="36.9" height="13.2" fill="#678ebe"/><rect x="36.55" y="0" width="36.9" height="13.2" fill="#658bbb"/><rect x="0" y="12.85" width="36.9" height="13.2" fill="#6a92c2"/><rect x="36.55" y="12.85" width="36.9" height="13.2" fill="#6a92c2"/><text class="S" x="18.3" y="9.9">13</text><text class="S" x="54.8" y="9.9">16</text></g>
<g transform="translate(767,363.4)"><rect x="0" y="0" width="36.9" height="13.2" fill="#6b93c3"/><rect x="0" y="12.85" width="36.9" height="13.2" fill="#6a92c2"/><text class="S" x="18.3" y="9.9">9</text></g>
</g>
<!-- axes -->
<line x1="35.5" y1="14" x2="35.5" y2="378.5" stroke="#b4b4b4" stroke-width="1"/>
<line x1="35.5" y1="378.5" x2="796" y2="378.5" stroke="#b4b4b4" stroke-width="1"/>
<g stroke="#a8a8a8" stroke-width="1">
<line x1="29" y1="35" x2="35.5" y2="35"/><line x1="29" y1="100" x2="35.5" y2="100"/><line x1="29" y1="165" x2="35.5" y2="165"/><line x1="29" y1="230" x2="35.5" y2="230"/><line x1="29" y1="295" x2="35.5" y2="295"/><line x1="29" y1="359.5" x2="35.5" y2="359.5"/>
<line x1="191.5" y1="379" x2="191.5" y2="385.5"/><line x1="351" y1="379" x2="351" y2="385.5"/><line x1="511" y1="379" x2="511" y2="385.5"/><line x1="670.5" y1="379" x2="670.5" y2="385.5"/>
</g>
<g class="ax" text-anchor="end">
<text x="25" y="39.3">-2.7</text><text x="25" y="104.3">-3</text><text x="25" y="169.3">-3.3</text><text x="25" y="234.3">-3.6</text><text x="25" y="299.3">-3.9</text><text x="25" y="364">-4.2</text>
</g>
<g class="ax" text-anchor="middle">
<text x="191.5" y="401.5">0.5</text><text x="351" y="401.5">0.5</text><text x="511" y="401.5">0.6</text><text x="670.5" y="401.5">0.6</text>
</g>
<!-- home icon -->
<g fill="#555" stroke="#555">
<polyline points="769,31 777,24.5 785,31" fill="none" stroke-width="2.4" stroke-linejoin="miter"/>
<path d="M771.5,30.5 L777,26 L782.5,30.5 L782.5,39 L779,39 L779,34 L775.5,34 L775.5,39 L771.5,39 Z" stroke="none"/>
</g>
<!-- navigator -->
<g>
<rect x="673.5" y="316.5" width="115" height="54.5" fill="#e9eef5" fill-opacity="0.84" stroke="#a5a5a5" stroke-width="1"/>
<ellipse cx="704" cy="337" rx="20" ry="6.5" fill="#6f96c7"/>
<ellipse cx="690" cy="333" rx="7" ry="4.5" fill="#6f96c7"/>
<ellipse cx="728" cy="335" rx="14" ry="3" fill="#80a4d0" fill-opacity="0.85"/>
<ellipse cx="713" cy="349" rx="22" ry="2.8" fill="#7199c9"/>
<ellipse cx="697" cy="345" rx="9" ry="3" fill="#7199c9"/>
<ellipse cx="722" cy="344" rx="6" ry="2" fill="#7199c9"/>
<ellipse cx="699" cy="339.5" rx="6.5" ry="1.2" fill="#2e4058"/>
<ellipse cx="718" cy="337" rx="7" ry="1.2" fill="#2e4058"/>
<g fill="#7ea2cf"><circle cx="745" cy="334" r="0.9"/><circle cx="752" cy="336" r="0.8"/><circle cx="765" cy="334" r="0.8"/><circle cx="773" cy="336" r="0.8"/><circle cx="745" cy="345" r="0.8"/><circle cx="748" cy="351" r="0.8"/><circle cx="738" cy="340" r="0.9"/></g>
<rect x="696.5" y="341" width="6" height="3.5" fill="none" stroke="#e04848" stroke-width="1"/>
</g>
</svg>
</body></html>
